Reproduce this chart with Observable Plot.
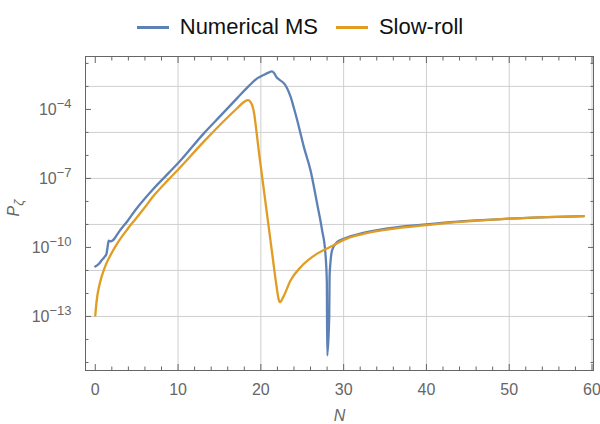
<!DOCTYPE html>
<html><head><meta charset="utf-8">
<script src="https://cdn.jsdelivr.net/npm/d3@7"></script>
<script src="https://cdn.jsdelivr.net/npm/@observablehq/plot@0.6"></script>
<style>
body{margin:0;background:#fff;width:600px;height:424px;overflow:hidden;font-family:"Liberation Sans",Arial,sans-serif}
#legend{height:46px;box-sizing:border-box;padding-top:8px;display:flex;justify-content:center;align-items:center;font-size:22px;color:#111}
.item{display:flex;align-items:center}
.item + .item{margin-left:18px}
.sw{display:inline-block;width:32px;height:3px;margin-right:11px}
</style></head>
<body>
<div id="legend"></div>
<div id="chart"></div>
<script>
const seriesNames = ["Numerical MS", "Slow-roll"];
const seriesColors = ["#5E81B5", "#E19C24"];

// Numerical MS: N and log10(P_zeta)
const blueN = [0, 0.45, 0.8, 1.1, 1.35, 1.5, 1.62, 1.85, 2.1, 2.9, 3.9, 4.9, 6.9, 8.9, 10.1, 13.14, 15.2, 17.17, 18.5, 19.6, 20.4, 21.0, 21.3, 21.6, 21.9, 22.2, 22.8, 23.2, 23.6, 24.0, 24.4, 25.2, 26.0, 26.8, 27.4, 27.8, 27.97, 28.02, 28.26, 28.3, 28.42, 28.6, 29.2, 30.0, 32.5, 36.5, 40, 44.5, 50, 54.6, 59];
const blueLogP = [-10.83, -10.71, -10.55, -10.42, -10.28, -9.95, -9.7, -9.74, -9.7, -9.3, -8.85, -8.35, -7.5, -6.75, -6.3, -5.03, -4.25, -3.5, -3.0, -2.64, -2.49, -2.39, -2.35, -2.42, -2.6, -2.7, -2.87, -3.1, -3.46, -3.95, -4.48, -5.64, -6.65, -8.1, -9.26, -10.27, -11.5, -14.7, -13.0, -11.3, -10.6, -10.13, -9.77, -9.63, -9.36, -9.12, -9.0, -8.86, -8.75, -8.68, -8.64];

// Slow-roll: N and log10(P_zeta)
const orangeN = [0, 0.1, 0.25, 0.45, 0.65, 1.0, 1.27, 1.8, 2.7, 3.9, 4.9, 5.9, 6.9, 8.9, 10.0, 13.14, 17.17, 18.0, 18.45, 18.75, 18.98, 19.2, 19.4, 19.8, 20.2, 20.8, 21.4, 21.9, 22.15, 22.3, 22.5, 22.8, 23.6, 24.8, 26.8, 28.8, 30.0, 32.5, 36.5, 40, 44.5, 50, 54.6, 59];
const orangeLogP = [-12.96, -12.55, -12.1, -11.72, -11.42, -11.02, -10.76, -10.36, -9.8, -9.2, -8.75, -8.3, -7.82, -7.03, -6.62, -5.39, -3.94, -3.67, -3.6, -3.68, -3.85, -4.2, -4.75, -5.95, -7.05, -8.7, -10.35, -11.7, -12.25, -12.38, -12.3, -12.09, -11.43, -10.86, -10.27, -9.91, -9.67, -9.4, -9.16, -9.03, -8.88, -8.75, -8.68, -8.64];

const xMajorTicks = [0, 10, 20, 30, 40, 50, 60];
const xMinorTicks = [2, 4, 6, 8, 12, 14, 16, 18, 22, 24, 26, 28, 32, 34, 36, 38, 42, 44, 46, 48, 52, 54, 56, 58];
const xGridLines = [10, 20, 30, 40, 50, 60];
const yLabelExponents = [-13, -10, -7, -4];
const yMinorExponents = [-15, -14, -12, -11, -9, -8, -6, -5, -3, -2];
const yGridExponents = [-13, -11, -9, -7, -5, -3];

// legend
const legend = document.getElementById("legend");
seriesNames.forEach((name, i) => {
  const it = document.createElement("div");
  it.className = "item";
  it.innerHTML = `<span class="sw" style="background:${seriesColors[i]}"></span><span>${name}</span>`;
  legend.appendChild(it);
});

const pow = e => Math.pow(10, e);
const blueData = blueN.map((N, i) => ({N, P: pow(blueLogP[i])}));
const orangeData = orangeN.map((N, i) => ({N, P: pow(orangeLogP[i])}));

const axisColor = "#666";
const tickFont = 16;

const chart = Plot.plot({
  width: 600,
  height: 378,
  marginTop: 10,
  marginBottom: 54,
  marginLeft: 85,
  marginRight: 7,
  style: {fontFamily: "'Liberation Sans', Arial, sans-serif", fontSize: tickFont + "px", background: "#fff"},
  x: {domain: [-1.18, 60.18], label: null},
  y: {type: "log", domain: [pow(-15.35), pow(-1.7)], label: null},
  marks: [
    Plot.ruleX(xGridLines, {stroke: "#cfcfcf", strokeWidth: 1}),
    Plot.ruleY(yGridExponents.map(pow), {stroke: "#cfcfcf", strokeWidth: 1}),
    Plot.line(blueData, {x: "N", y: "P", stroke: seriesColors[0], strokeWidth: 2.3, curve: "monotone-x", strokeLinejoin: "round", strokeLinecap: "round"}),
    Plot.line(orangeData, {x: "N", y: "P", stroke: seriesColors[1], strokeWidth: 2.3, curve: "monotone-x", strokeLinejoin: "round", strokeLinecap: "round"}),
    Plot.frame({stroke: axisColor, strokeWidth: 1}),
    // bottom axis
    Plot.axisX(xMajorTicks, {anchor: "bottom", tickSize: -6, tickPadding: 19, stroke: axisColor, fill: axisColor, fontSize: tickFont, label: null}),
    Plot.axisX(xMinorTicks, {anchor: "bottom", tickSize: -3.5, stroke: axisColor, fill: "none", label: null}),
    // top axis ticks
    Plot.axisX(xMajorTicks, {anchor: "top", tickSize: -6, stroke: axisColor, fill: "none", label: null}),
    Plot.axisX(xMinorTicks, {anchor: "top", tickSize: -3.5, stroke: axisColor, fill: "none", label: null}),
    // left axis
    Plot.axisY(yLabelExponents.map(pow), {anchor: "left", tickSize: -6, tickPadding: 20, stroke: axisColor, fill: axisColor, fontSize: tickFont, tickFormat: d => String(Math.round(Math.log10(d))), label: null}),
    Plot.axisY(yMinorExponents.map(pow), {anchor: "left", tickSize: -3.5, stroke: axisColor, fill: "none", label: null}),
    // right axis ticks
    Plot.axisY(yLabelExponents.map(pow), {anchor: "right", tickSize: -6, stroke: axisColor, fill: "none", label: null}),
    Plot.axisY(yMinorExponents.map(pow), {anchor: "right", tickSize: -3.5, stroke: axisColor, fill: "none", label: null}),
    // axis titles
    Plot.text(["N"], {frameAnchor: "bottom", dy: 50, fontStyle: "italic", fontSize: 16, fill: axisColor}),
    Plot.text(["P"], {frameAnchor: "left", dx: -72, dy: 3, rotate: -90, fontStyle: "italic", fontSize: 16, fill: axisColor})
  ]
});
document.getElementById("chart").appendChild(chart);

// superscript exponents on y tick labels
const NS = "http://www.w3.org/2000/svg";
chart.querySelectorAll('g[aria-label="y-axis tick label"] text').forEach(t => {
  const exp = t.textContent.replace("-", "\u2212");
  t.textContent = "";
  const base = document.createElementNS(NS, "tspan");
  base.textContent = "10";
  const sup = document.createElementNS(NS, "tspan");
  sup.setAttribute("dy", "-0.5em");
  sup.setAttribute("font-size", "13px");
  sup.textContent = exp;
  t.appendChild(base);
  t.appendChild(sup);
});
// subscript zeta on the y title
chart.querySelectorAll('g[aria-label="text"] text').forEach(t => {
  if (t.textContent === "P") {
    const sub = document.createElementNS(NS, "tspan");
    sub.setAttribute("dy", "0.3em");
    sub.setAttribute("font-size", "13px");
    sub.textContent = "\u03B6";
    t.appendChild(sub);
  }
});
</script>
</body></html>
